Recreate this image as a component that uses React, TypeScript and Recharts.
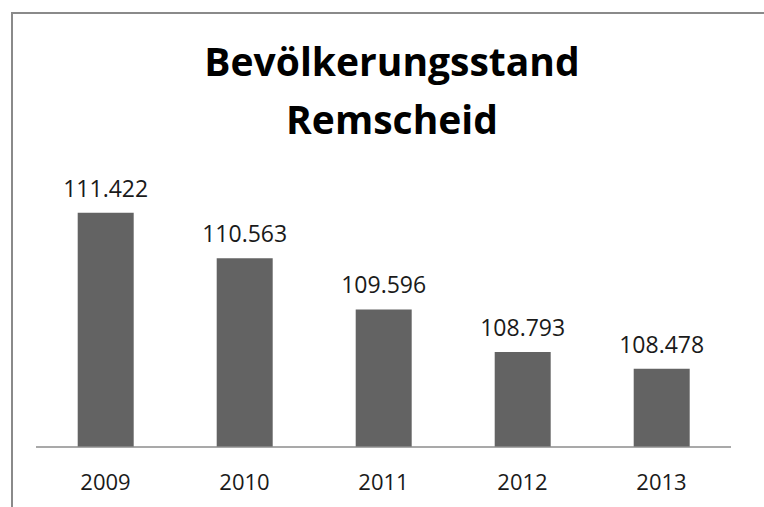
import React from "react";
import { BarChart, Bar, XAxis, YAxis, LabelList } from "recharts";

// Einwohnerzahlen Remscheid (Jahresende)
const years = ["2009", "2010", "2011", "2012", "2013"];
const population = [111422, 110563, 109596, 108793, 108478];

const data = years.map((year, i) => ({ year, value: population[i] }));

// German thousands separator: 111422 -> "111.422"
const formatDe = (v: number) =>
  String(v).replace(/\B(?=(\d{3})+(?!\d))/g, ".");

const font = "'Open Sans', 'Noto Sans', sans-serif";

export default function App() {
  return (
    <div
      style={{
        position: "absolute",
        left: 0,
        top: 0,
        width: 764,
        height: 507,
        background: "#fff",
        overflow: "hidden",
        fontFamily: font,
      }}
    >
      {/* chart frame, cropped on right and bottom */}
      <div
        style={{
          position: "absolute",
          left: 11,
          top: 12,
          width: 800,
          height: 600,
          borderLeft: "2px solid #8a8a8a",
          borderTop: "2px solid #8a8a8a",
        }}
      />
      <div
        style={{
          position: "absolute",
          left: 0,
          top: 32,
          width: 784,
          textAlign: "center",
          fontWeight: 700,
          fontSize: 39,
          lineHeight: "58px",
          color: "#000",
        }}
      >
        Bevölkerungsstand
        <br />
        Remscheid
      </div>
      <div style={{ position: "absolute", left: 0, top: 0 }}>
        <BarChart
          width={764}
          height={507}
          data={data}
          margin={{ top: 182, right: 33, bottom: 30, left: 36 }}
          barCategoryGap="30%"
        >
          <YAxis hide domain={[107000, 112000]} allowDataOverflow />
          <XAxis
            dataKey="year"
            tickLine={false}
            axisLine={{ stroke: "#8c8c8c", strokeWidth: 1.5 }}
            tickMargin={21}
            tick={{ fill: "#1a1a1a", fontSize: 22, fontFamily: font }}
          />
          <Bar dataKey="value" fill="#636363" isAnimationActive={false}>
            <LabelList
              dataKey="value"
              position="top"
              offset={16}
              formatter={(v: any) => formatDe(Number(v))}
              style={{ fill: "#1a1a1a", fontSize: 23, fontFamily: font }}
            />
          </Bar>
        </BarChart>
      </div>
    </div>
  );
}
